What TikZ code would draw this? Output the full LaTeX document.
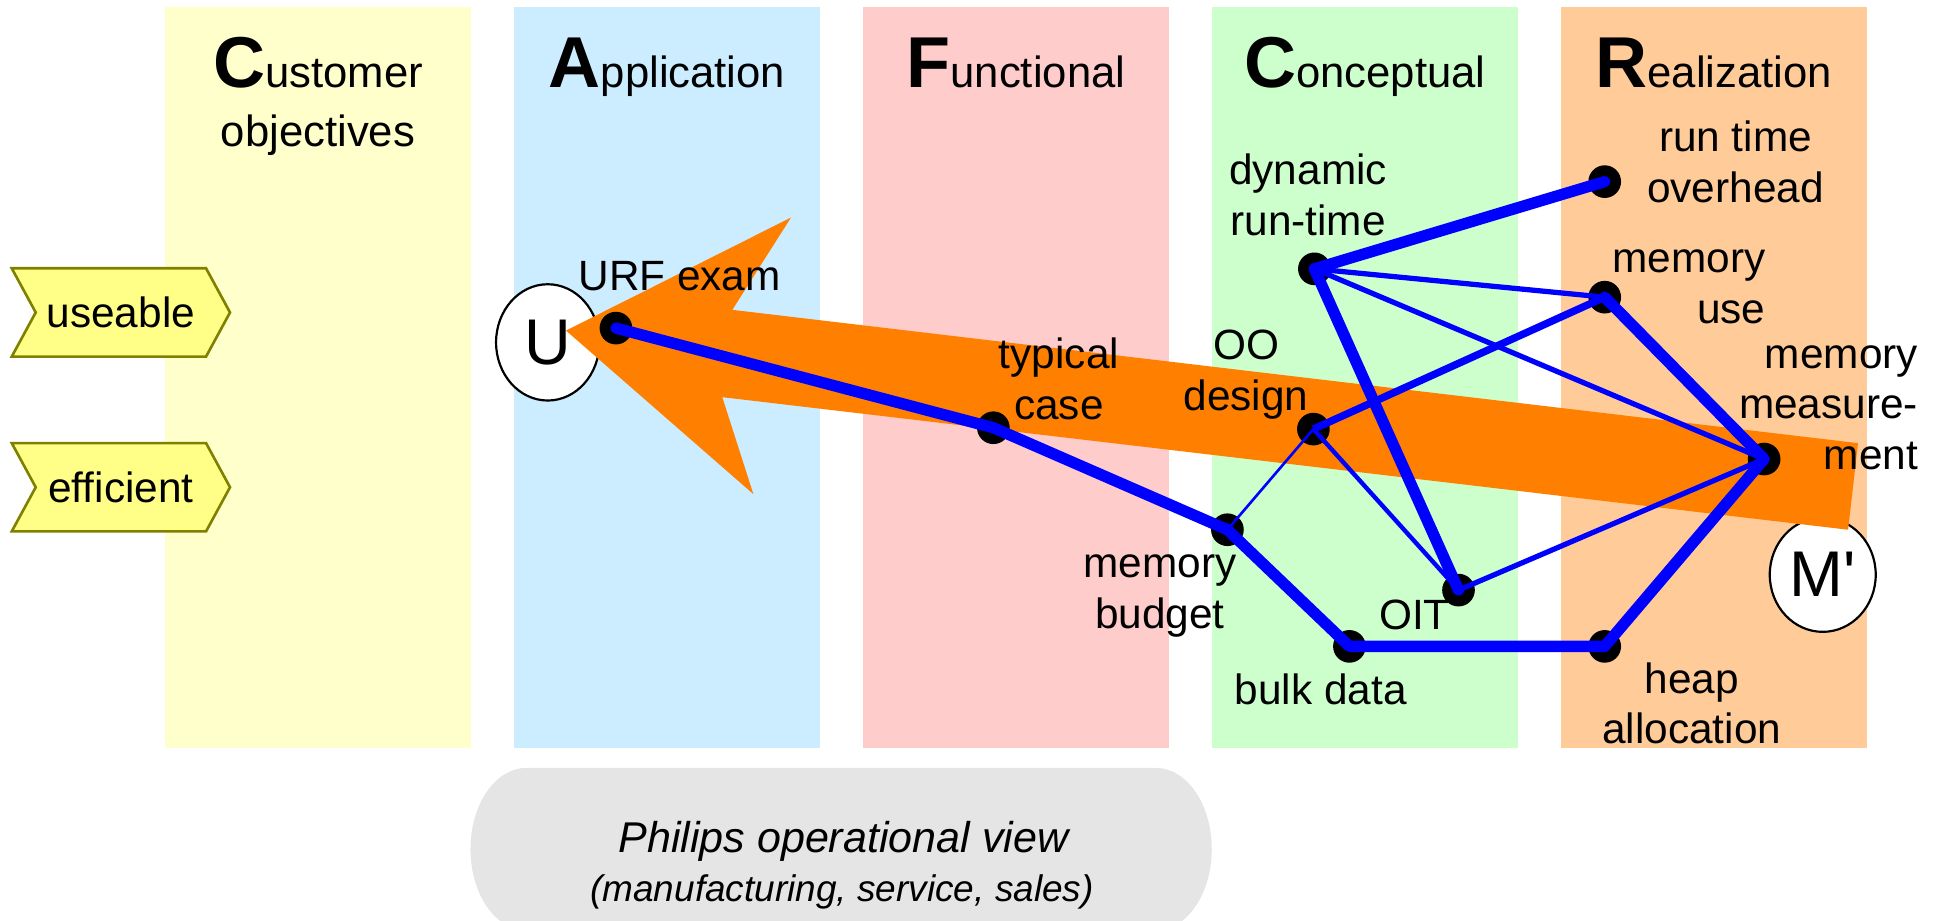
\documentclass[tikz,border=0pt]{standalone}
\usepackage{fontspec}
\setmainfont{Liberation Sans}
\usepackage{tikz}
\usetikzlibrary{shapes.geometric, shapes.symbols}
\definecolor{custyellow}{RGB}{255, 255, 204}
\definecolor{appblue}{RGB}{204, 236, 255}
\definecolor{funcpink}{RGB}{255, 204, 204}
\definecolor{concgreen}{RGB}{204, 255, 204}
\definecolor{realorange}{RGB}{255, 204, 153}
\definecolor{flowarrow}{RGB}{255, 128, 0}
\definecolor{tagyellow}{RGB}{255, 255, 136}
\definecolor{tagolive}{RGB}{128, 128, 0}
\definecolor{pillgray}{RGB}{229, 229, 229}
\definecolor{linkblue}{RGB}{0, 0, 255}
\newcommand{\headletter}[1]{{\fontsize{16.5}{19}\selectfont\bfseries #1}}

\begin{document}
\begin{tikzpicture}[
    head text/.style={font=\fontsize{10}{12}\selectfont, inner sep=0pt, anchor=base},
    label text/.style={font=\fontsize{9.7}{11.6}\selectfont, inner sep=0pt, align=center, anchor=base},
    dot/.style={circle, fill=black, minimum size=0.263cm, inner sep=0pt},
    tag/.style={signal, signal to=east, signal from=west, signal pointer angle=123,
        fill=tagyellow, draw=tagolive, line width=0.6pt, minimum width=1.757cm,
        minimum height=0.711cm, inner sep=0pt, font=\fontsize{9.7}{11.6}\selectfont},
    view/.style={ellipse, draw=black, fill=white, line width=0.5pt, inner sep=0pt,
        font=\fontsize{14.8}{18}\selectfont},
    strong link/.style={linkblue, line width=2.6pt, line join=round, line cap=round},
    medium link/.style={linkblue, line width=1.7pt},
    thin link/.style={linkblue, line width=1.2pt},
    faint link/.style={linkblue, line width=0.6pt}
]
    \useasboundingbox (0,0) rectangle (15.6,7.41);

    % The Columns (CAFCR views)
    \foreach \x/\col/\first/\rest [count=\i] in {1.328/custyellow/C/ustomer, 4.137/appblue/A/pplication,
        6.946/funcpink/F/unctional, 9.755/concgreen/C/onceptual, 12.564/realorange/R/ealization} {
        \fill[\col] (\x,1.392) rectangle ++(2.463,5.959);
        \node[head text] (head\i) at (\x+1.232,6.708) {\headletter{\first}\rest};
    }
    \node[head text] (objectives) at (2.56,6.23) {objectives};

    % Qualities
    \node[tag] (useable) at (0.973,4.895) {useable};
    \node[tag] (efficient) at (0.973,3.488) {efficient};

    % Operational view
    \fill[pillgray] (4.237,1.229) arc[start angle=90, end angle=270, x radius=0.45, y radius=0.654]
        -- (9.304,-0.079) arc[start angle=-90, end angle=90, x radius=0.45, y radius=0.654] -- cycle;
    \node[head text, font=\fontsize{9.86}{12}\selectfont\itshape] (operational) at (6.789,0.545) {Philips operational view};
    \node[head text, font=\fontsize{8.47}{10}\selectfont\itshape] (operational sub) at (6.778,0.155) {(manufacturing, service, sales)};

    % Viewpoints
    \node[view, minimum width=0.832cm, minimum height=0.936cm] (U) at (4.409,4.654) {U};
    \node[view, minimum width=0.853cm, minimum height=0.92cm] (Mprime) at (14.672,2.784) {M\textquotesingle};

    % The reasoning arrow
    \fill[flowarrow] (4.556,4.749) -- (6.367,5.659) -- (5.895,4.916) -- (14.956,3.843)
        -- (14.876,3.146) -- (5.814,4.213) -- (6.064,3.433) -- cycle;

    % Threads of reasoning
    \foreach \name/\pos in {urf/{4.958,4.769}, typical/{7.996,3.967}, budget/{9.880,3.146},
        bulk/{10.862,2.207}, oo/{10.572,3.956}, dynamic/{10.580,5.246}, oit/{11.740,2.660},
        overhead/{12.917,5.948}, memuse/{12.917,5.018}, measure/{14.200,3.715}, heap/{12.917,2.207}}
        \node[dot] (\name) at (\pos) {};

    \draw[strong link] (urf.center) -- (typical.center) -- (budget.center) -- (bulk.center)
        -- (heap.center) -- (measure.center) -- (memuse.center);
    \draw[strong link] (overhead.center) -- (dynamic.center) -- (oit.center);
    \draw[medium link] (memuse.center) -- (oo.center);
    \draw[thin link] (dynamic.center) -- (memuse.center);
    \draw[thin link] (dynamic.center) -- (measure.center);
    \draw[thin link] (oit.center) -- (measure.center);
    \draw[linkblue, line width=1pt] (oo.center) -- (oit.center);
    \draw[faint link] (oo.center) -- (budget.center);

    % Labels (placed at the baseline of their last line)
    \node[label text] (urf label) at (5.471,5.071) {URF exam};
    \node[label text] (typical label) at (8.524,4.033) {typical\\case};
    \node[label text] (oo label) at (10.03,4.105) {OO\\design};
    \node[label text] (dynamic label) at (10.529,5.514) {dynamic\\run-time};
    \node[label text] (budget label) at (9.336,2.352) {memory\\budget};
    \node[label text] (bulk label) at (10.632,1.738) {bulk data};
    \node[label text] (oit label) at (11.386,2.341) {OIT};
    \node[label text] (overhead label) at (13.97,5.782) {run time\\overhead};
    \node[label text, align=right, anchor=base east] (memuse label) at (14.218,4.808) {memory\\use};
    \node[label text, align=right, anchor=base east] (measure label) at (15.445,3.631) {memory\\measure-\\ment};
    \node[label text] (heap label) at (13.617,1.424) {heap\\allocation};
\end{tikzpicture}
\end{document}
